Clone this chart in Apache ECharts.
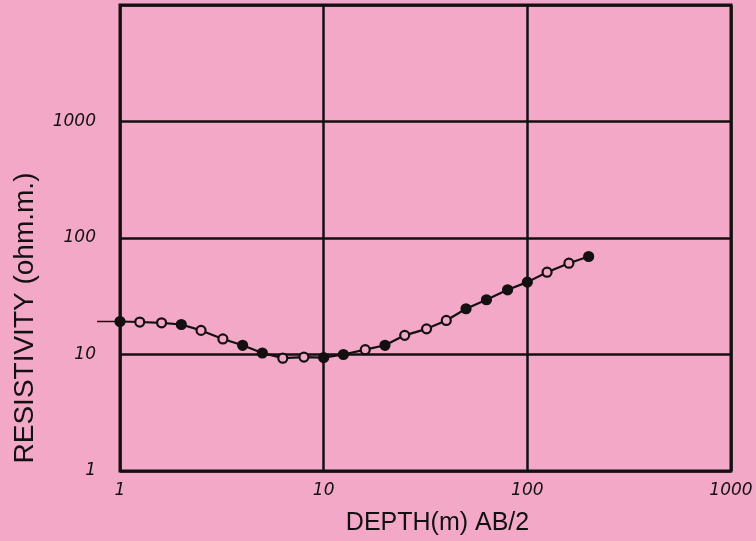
<!DOCTYPE html>
<html>
<head>
<meta charset="utf-8">
<script src="https://cdn.jsdelivr.net/npm/echarts@6/dist/echarts.min.js"></script>
<style>
  html, body { margin: 0; padding: 0; background: #f3a8c7; }
  #chart { width: 756px; height: 541px; }
</style>
</head>
<body>
<div id="chart"></div>
<script>
// Sounding curve: apparent resistivity against electrode half-spacing AB/2
const spacing = [1, 1.25, 1.6, 2, 2.5, 3.2, 4, 5, 6.3, 8, 10, 12.5, 16, 20, 25, 32, 40, 50, 63, 80, 100, 125, 160, 200];
const resistivity = [19.2, 19, 18.7, 18.1, 16.1, 13.6, 12.0, 10.3, 9.3, 9.5, 9.4, 10.0, 11.0, 12.0, 14.6, 16.6, 19.6, 24.7, 29.5, 35.9, 41.8, 50.9, 60.8, 69.4];
// Which readings are plotted as solid dots (the rest are hollow rings)
const solid = [1, 0, 0, 1, 0, 0, 1, 1, 0, 0, 1, 1, 0, 1, 0, 0, 0, 1, 1, 1, 1, 0, 0, 1];

const xTicks = [1, 10, 100, 1000];
const yTicks = [1, 10, 100, 1000, 10000];
const yLabelled = [1, 10, 100, 1000];

const xTitle = 'DEPTH(m) AB/2';
const yTitle = 'RESISTIVITY (ohm.m.)';

const PINK = '#f3a8c7';
const INK = '#141012';

const chart = echarts.init(document.getElementById('chart'));

const points = spacing.map((x, i) => ({
  value: [x, resistivity[i]],
  itemStyle: { color: solid[i] ? INK : PINK }
}));

const tickFont = {
  fontFamily: 'DejaVu Sans',
  fontStyle: 'italic',
  fontSize: 17,
  color: INK
};

chart.setOption({
  backgroundColor: PINK,
  animation: false,
  grid: { left: 120, right: 25, top: 5, bottom: 70, containLabel: false },
  xAxis: {
    type: 'log',
    logBase: 10,
    min: xTicks[0],
    max: xTicks[xTicks.length - 1],
    axisLine: { show: false },
    axisTick: { show: false },
    minorTick: { show: false },
    splitLine: { show: true, lineStyle: { color: INK, width: 2.5 } },
    axisLabel: Object.assign({
      margin: 11,
      showMinLabel: true,
      showMaxLabel: true,
      formatter: v => String(Math.round(v))
    }, tickFont)
  },
  yAxis: {
    type: 'log',
    logBase: 10,
    min: yTicks[0],
    max: yTicks[yTicks.length - 1],
    axisLine: { show: false },
    axisTick: { show: false },
    splitLine: { show: true, lineStyle: { color: INK, width: 2.5 } },
    axisLabel: Object.assign({
      margin: 24,
      showMinLabel: true,
      formatter: v => (yLabelled.indexOf(Math.round(v)) >= 0 ? String(Math.round(v)) : '')
    }, tickFont)
  },
  series: [{
    type: 'line',
    data: points,
    symbol: 'circle',
    symbolSize: 9,
    lineStyle: { color: INK, width: 2.2 },
    itemStyle: { borderColor: INK, borderWidth: 2.2 },
    z: 5
  }]
});

// Plot frame, axis titles and the lead-in of the curve left of the first reading
const g = chart.getModel().getComponent('grid').coordinateSystem.getRect();
const first = chart.convertToPixel({ gridIndex: 0 }, [spacing[0], resistivity[0]]);

chart.setOption({
  graphic: [
    {
      type: 'rect',
      shape: { x: g.x, y: g.y, width: g.width, height: g.height },
      style: { fill: 'none', stroke: INK, lineWidth: 3 },
      z: 10
    },
    {
      type: 'line',
      shape: { x1: first[0] - 23, y1: first[1], x2: first[0], y2: first[1] },
      style: { stroke: INK, lineWidth: 1.5 },
      z: 10
    },
    {
      type: 'text',
      x: g.x + g.width / 2 + 12,
      y: 523,
      style: {
        text: xTitle,
        fontFamily: 'Liberation Sans',
        fontSize: 25,
        fill: INK,
        align: 'center',
        verticalAlign: 'middle'
      }
    },
    {
      type: 'text',
      x: 25,
      y: 318,
      rotation: Math.PI / 2,
      style: {
        text: yTitle,
        fontFamily: 'Liberation Sans',
        fontSize: 28,
        fill: INK,
        align: 'center',
        verticalAlign: 'middle'
      }
    }
  ]
});
</script>
</body>
</html>
